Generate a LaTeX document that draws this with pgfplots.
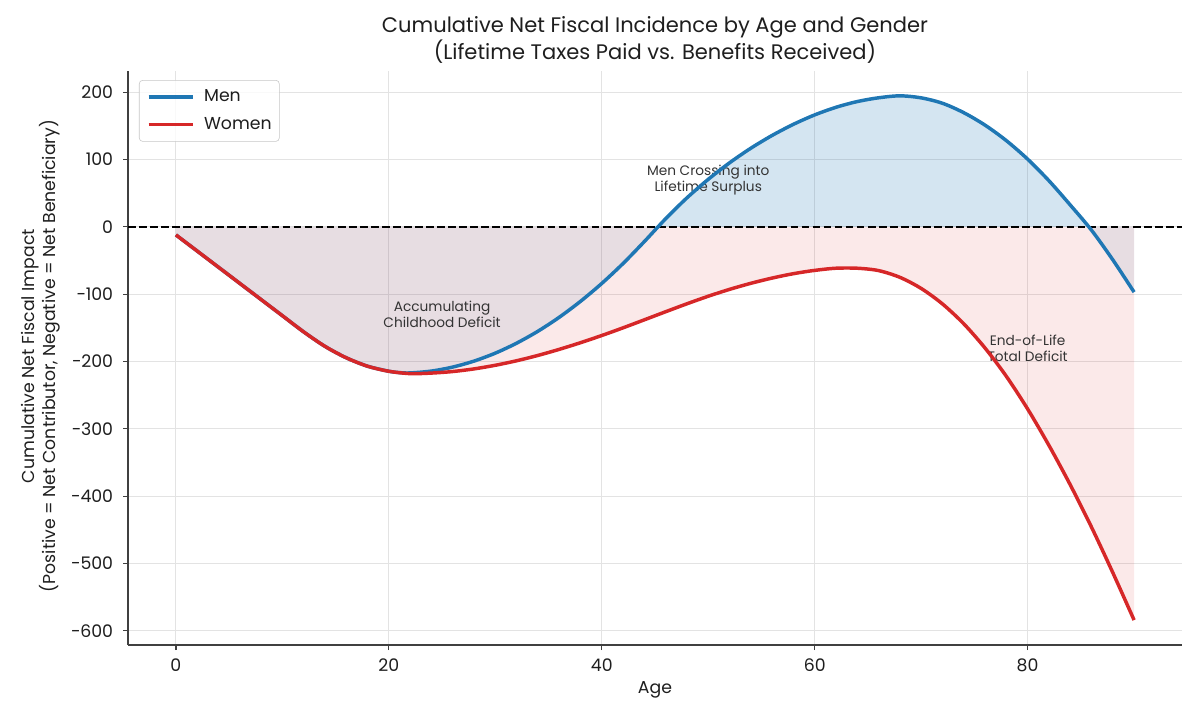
\documentclass[border=0pt]{standalone}
\usepackage{fontspec}
\setmainfont{Poppins}
\usepackage{pgfplots}
\usepackage{pgfplotstable}
\pgfplotsset{compat=1.18}
\definecolor{mblue}{HTML}{1F77B4}
\definecolor{wred}{HTML}{D62728}
\definecolor{txt}{HTML}{1E1E1E}
\definecolor{ann}{HTML}{333333}

\pgfplotstableread{
age val
0 -12
2 -36
4 -60
6 -84
8 -108
10 -132
12 -156
14 -177.5
16 -194.5
18 -207
20 -214.5
21 -216.5
22 -217
24 -214.2
26 -208.3
28 -199.4
30 -187.6
32 -172.8
34 -155.1
36 -134.4
38 -110.7
40 -84.1
42 -54.5
44 -21.9
46 12
48 43
50 70.5
52 95
54 116.7
56 135.7
58 152.2
60 166.2
62 177.5
64 186
66 191.6
68 194.5
70 191.5
72 183.5
74 169.5
76 151
78 128
80 100.5
82 68.5
84 32.5
86 -5
88 -49
90 -97
}\menData

\pgfplotstableread{
age val
45.3 0
46 12
48 43
50 70.5
52 95
54 116.7
56 135.7
58 152.2
60 166.2
62 177.5
64 186
66 191.6
68 194.5
70 191.5
72 183.5
74 169.5
76 151
78 128
80 100.5
82 68.5
84 32.5
85.75 0
}\menPos

\pgfplotstableread{
age val
0 -12
2 -36
4 -60
6 -84
8 -108
10 -132
12 -156
14 -177.5
16 -194.5
18 -207
20 -214.5
22 -218
24 -217.2
26 -214.9
28 -211.0
30 -205.6
32 -198.9
34 -191.0
36 -182.0
38 -172.1
40 -161.4
42 -150.0
44 -138.1
46 -126.1
48 -114.3
50 -103.1
52 -92.9
54 -83.9
56 -76.1
58 -69.6
60 -64.7
62 -61.5
64 -61.5
66 -65
68 -75
70 -91.5
72 -114.5
74 -144
76 -180
78 -222
80 -270.5
82 -324.5
84 -383
86 -446
88 -513.5
90 -584
}\womenData

\begin{document}
\begin{tikzpicture}
\useasboundingbox (0,0) rectangle (864bp,518.4bp);
\begin{axis}[
  at={(92.16bp,54bp)}, anchor=south west, scale only axis,
  width=758.88bp, height=413.57bp,
  xmin=-4.5, xmax=94.5, ymin=-621, ymax=232,
  axis x line*=bottom, axis y line*=left,
  axis line style={black!75, line width=0.9bp, -},
  xtick={0,20,40,60,80},
  ytick={-600,-500,-400,-300,-200,-100,0,100,200},
  yticklabels={−600,−500,−400,−300,−200,−100,0,100,200},
  tick align=outside, major tick length=3.6bp,
  tick style={black!75, line width=0.9bp},
  grid=major, major grid style={gray!22, line width=0.7bp},
  ticklabel style={font=\fontsize{12.5}{15}\selectfont, text=txt},
  yticklabel style={xshift=-3.6bp},
  xticklabel style={yshift=-3bp},
  /pgf/number format/assume math mode=true,
  legend cell align=left,
  legend image code/.code={\draw[#1] (0bp,0bp) -- (31.7bp,0bp);},
  legend style={at={(axis description cs:0,1)}, anchor=north west,
    xshift=7.9bp, yshift=-6.8bp, draw=gray!45, rounded corners=2.5bp,
    fill=white, fill opacity=0.8, text opacity=1,
    font=\fontsize{12.5}{15}\selectfont, text=txt,
    nodes={inner sep=0pt, text height=9.5bp, text depth=2.5bp},
    row sep=8bp, column sep=7bp, inner xsep=5.5bp, inner ysep=6bp},
]
\addplot[draw=none, fill=mblue, fill opacity=0.1, smooth, forget plot] table[x=age,y=val] {\menData} \closedcycle;
\addplot[draw=none, fill=mblue, fill opacity=0.1, smooth, forget plot] table[x=age,y=val] {\menPos} \closedcycle;
\addplot[draw=none, fill=wred, fill opacity=0.1, smooth, forget plot] table[x=age,y=val] {\womenData} \closedcycle;
\node[font=\fontsize{9.9}{11.3}\selectfont, text=ann, align=center] at (axis cs:50,69) {Men Crossing into\\Lifetime Surplus};
\node[font=\fontsize{9.9}{11.3}\selectfont, text=ann, align=center] at (axis cs:25,-130) {Accumulating\\Childhood Deficit};
\node[font=\fontsize{9.9}{11.3}\selectfont, text=ann, align=center] at (axis cs:80,-180) {End-of-Life\\Total Deficit};
\addplot[black, line width=1.5bp, dash pattern=on 5.55bp off 2.4bp, forget plot] coordinates {(-4.5,0) (94.5,0)};
\addplot[mblue, line width=2.5bp, smooth] table[x=age,y=val] {\menData};
\addlegendentry{Men}
\addplot[wred, line width=2.5bp, smooth] table[x=age,y=val] {\womenData};
\addlegendentry{Women}
\end{axis}
\node[font=\fontsize{15.2}{18}\selectfont, text=txt] at (471.6bp,498.96bp) {Cumulative Net Fiscal Incidence by Age and Gender};
\node[font=\fontsize{15.2}{18}\selectfont, text=txt] at (471.6bp,480.96bp) {(Lifetime Taxes Paid vs. Benefits Received)};
\node[font=\fontsize{12.5}{14}\selectfont, text=txt, rotate=90] at (21.6bp,262bp) {Cumulative Net Fiscal Impact};
\node[font=\fontsize{12.5}{14}\selectfont, text=txt, rotate=90] at (36bp,262bp) {(Positive = Net Contributor, Negative = Net Beneficiary)};
\node[font=\fontsize{12.5}{14}\selectfont, text=txt] at (471.6bp,21.5bp) {Age};
\end{tikzpicture}
\end{document}
